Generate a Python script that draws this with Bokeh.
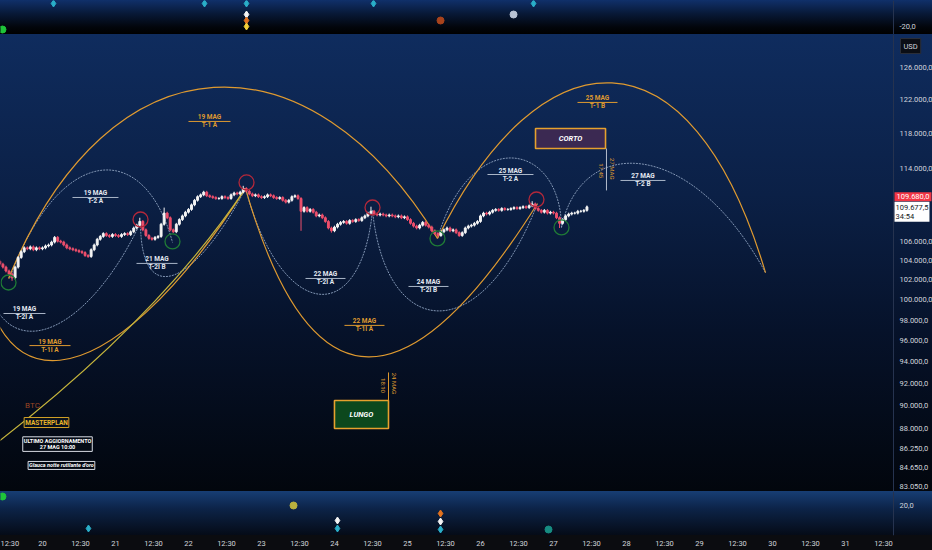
from math import pi
from bokeh.plotting import figure
from bokeh.layouts import column
from bokeh.models import Range1d, FixedTicker, Label, Span, ColumnDataSource
from bokeh.core.properties import value
from bokeh.embed import file_html
from bokeh.resources import INLINE

FONT = "Roboto"

# BTCUSD 1h closes, 19 May 10:00 -> 27 May 11:00
closes = [
    # 19
    103600, 103300, 102900, 102600, 102200, 103300, 104300, 104900, 105300, 105200, 105400, 105100, 105300, 105200,
    # 20
    105300, 105500, 105600, 105900, 106400, 106000, 105900, 105600, 105300, 105200, 105100, 105000,
    104900, 104800, 104500, 104400, 105100, 105600, 106200, 106500, 106800, 106600, 106500, 106700,
    # 21
    106600, 106500, 106700, 106800, 106700, 107000, 107400, 107700, 108100, 107200, 106600, 106300,
    106200, 106400, 106500, 107800, 109000, 108500, 107200, 107000, 107800, 108300, 108700, 109100,
    # 22
    109400, 109900, 110400, 110800, 111000, 111300, 110900, 110800, 110700, 110600, 110600, 110800,
    110700, 110600, 111000, 111200, 111100, 111300, 111700, 111400, 111100, 110900, 111000, 110800,
    # 23
    110700, 110800, 111000, 110900, 110700, 110600, 110700, 110400, 110200, 110400, 110800, 110900,
    110600, 109200, 109600, 109200, 109400, 109100, 108700, 108800, 108500, 108100, 107400, 107100,
    # 24
    107500, 107800, 108000, 108100, 107900, 108200, 108100, 108300, 108200, 108500, 108700, 109000,
    109200, 108900, 108800, 108900, 108800, 108700, 108800, 108700, 108600, 108700, 108500, 108600,
    # 25
    108300, 107900, 107600, 107400, 107700, 108000, 107700, 107500, 107100, 106800, 106600, 107000,
    107200, 107400, 107100, 107200, 106900, 106600, 106900, 107400, 107600, 107700, 107900, 108100,
    # 26
    108700, 109000, 108900, 109100, 109300, 109400, 109300, 109500, 109400, 109400, 109500, 109600,
    109500, 109600, 109700, 109600, 109800, 110000, 109500, 109300, 109100, 109300, 109000, 109100,
    # 27
    109000, 108500, 107900, 108300, 108700, 108900, 109000, 109000, 109200, 109200, 109300, 109680,
]
first_open = 103900
wick = 150
hi_spikes = {46: 108500, 54: 109600, 80: 112000, 122: 109700, 175: 110300}
lo_spikes = {4: 101900, 99: 107100, 109: 106900, 144: 106400, 184: 107400}

# cycle arcs: (x0, y0, cx0, cy0, cx1, cy1, x1, y1) in day-of-May / USD
arcs_orange = [
    (19.535, 102140, 20.932, 130730, 23.672, 130730, 25.411, 106290),
    (19.083, 110380, 19.083, 87800, 20.932, 90460, 22.781, 111710),
    (22.781, 111710, 23.672, 89120, 25.041, 90010, 26.781, 110050),
    (25.411, 106290, 26.822, 130730, 28.877, 132030, 29.904, 102740),
]
arcs_grey = [
    (19.548, 102140, 20.247, 117170, 21.411, 117170, 21.781, 105870),
    (19.151, 107140, 19.151, 92280, 20.521, 95070, 21.343, 107990),
    (21.343, 107990, 21.343, 98940, 22.096, 101430, 22.781, 111710),
    (22.781, 111710, 23.261, 97960, 24.357, 96980, 24.521, 109290),
    (24.521, 109290, 24.699, 96020, 26.000, 95070, 26.781, 110050),
    (25.411, 106290, 25.863, 118930, 27.096, 117170, 27.110, 107460),
    (27.110, 107460, 27.370, 117760, 28.877, 117760, 29.904, 102740),
]
arc_yellow = (18.877, 84380, 21.480, 96980, 22.781, 111710)

# turning points
tops_x = [21.343, 22.795, 24.521, 26.767]
tops_y = [108310, 112380, 109610, 110490]
lows_x = [19.535, 21.781, 25.411, 27.110]
lows_y = [101730, 105970, 106290, 107460]

# arc tags: line1, line2, x start, x end, price, colour
tags = [
    ("19 MAG", "T-2 A", 20.411, 21.041, 110710, "w"),
    ("19 MAG", "T-1 A", 22.000, 22.576, 119410, "o"),
    ("21 MAG", "T-2I B", 21.288, 21.850, 103680, "w"),
    ("19 MAG", "T-2I A", 19.466, 20.041, 98640, "w"),
    ("19 MAG", "T-1I A", 19.822, 20.384, 95540, "o"),
    ("22 MAG", "T-2I A", 23.603, 24.151, 102140, "w"),
    ("24 MAG", "T-2I B", 25.014, 25.562, 101330, "w"),
    ("22 MAG", "T-1I A", 24.137, 24.685, 97480, "o"),
    ("25 MAG", "T-2 A", 26.096, 26.726, 113270, "w"),
    ("25 MAG", "T-1 B", 27.329, 27.877, 121690, "o"),
    ("27 MAG", "T-2 B", 27.918, 28.534, 112600, "w"),
]

# signal boxes
boxes = [("CORTO", 26.754, 27.713, 118580, 116240, "#3b2952"),
         ("LUNGO", 24.000, 24.740, 90460, 87980, "#0c481d")]

# indicator strips
top_x = [20.151, 22.220, 22.795, 24.535, 26.727, 22.795, 22.795, 22.795, 25.453, 26.453, 19.452]
top_v = [3, 3, 3, 3, 3, -8, -14, -20, -14, -8, -23]
top_c = ["#2aaec8"] * 5 + ["#f4f4f4", "#e2721e", "#f2cf3a", "#a8431c", "#b8c2d4", "#1fc43a"]
top_m = ["diamond"] * 8 + ["circle"] * 3
bot_x = [19.452, 23.439, 24.041, 24.041, 20.630, 25.453, 25.453, 25.453, 26.932]
bot_v = [29, 20, 5, -3, -3, 12, 4, -4, -4]
bot_c = ["#1fc43a", "#b9b13e", "#f4f4f4", "#2aaec8", "#2aaec8", "#e2721e", "#f4f4f4", "#2aaec8", "#178c82"]
bot_m = ["circle", "circle", "diamond", "diamond", "diamond", "diamond", "diamond", "diamond", "circle"]

y_ticks = [126000, 122000, 118000, 114000, 106000, 104000, 102000, 100000, 98000, 96000,
           94000, 92000, 90000, 88000, 86250, 84650, 83050]
y_tick_labels = ["126.000,0", "122.000,0", "118.000,0", "114.000,0", "106.000,0", "104.000,0",
                 "102.000,0", "100.000,0", "98.000,0", "96.000,0", "94.000,0", "92.000,0",
                 "90.000,0", "88.000,0", "86.250,0", "84.650,0", "83.050,0"]
x_ticks = [19.5208, 20, 20.5208, 21, 21.5208, 22, 22.5208, 23, 23.5208, 24, 24.5208, 25, 25.5208,
           26, 26.5208, 27, 27.5208, 28, 28.5208, 29, 29.5208, 30, 30.5208, 31, 31.5208]
x_tick_labels = ["12:30", "20", "12:30", "21", "12:30", "22", "12:30", "23", "12:30", "24", "12:30",
                 "25", "12:30", "26", "12:30", "27", "12:30", "28", "12:30", "29", "12:30", "30",
                 "12:30", "31", "12:30"]

ORANGE = "#df9a30"
GREY = "#8296b4"
TXT = "#d1d4dc"
X0, X1 = 19.425, 31.658     # visible time span; X1 is where the price scale begins
XS = X0 + 932 / 73          # right edge including the price scale
x_range = Range1d(X0, XS)


def panel(h, y_range, bg, **kw):
    f = figure(frame_width=932, frame_height=h, x_range=x_range, y_range=y_range,
               output_backend="svg", toolbar_location=None, y_axis_location="right",
               min_border_left=0, min_border_right=0, min_border_top=0,
               background_fill_alpha=0, border_fill_alpha=0, outline_line_color=None,
               styles={"background": bg}, **kw)
    f.grid.visible = False
    ax = f.yaxis[0]
    ax.fixed_location = X1
    ax.axis_line_color = None
    ax.major_tick_line_color = None
    ax.minor_tick_line_color = None
    ax.major_tick_out = ax.major_tick_in = ax.minor_tick_out = ax.minor_tick_in = 0
    ax.major_label_text_color = TXT
    ax.major_label_text_font = FONT
    ax.major_label_text_font_size = "7.5px"
    ax.major_label_standoff = 6
    f.add_layout(Span(location=X1, dimension="height", line_color="#26334f", line_width=1))
    return f


# top strip
top = panel(34, Range1d(-28, 6),
            "linear-gradient(to bottom, #10306a 0%, #081937 40%, #02050b 80%, #000 100%)",
            x_axis_location=None, min_border_bottom=0)
top.yaxis.ticker = FixedTicker(ticks=[-20])
top.yaxis.major_label_overrides = {-20: "-20,0"}
top.scatter(x="x", y="y", marker="m", color="c", size=7,
            source=ColumnDataSource(dict(x=top_x, y=top_v, c=top_c, m=top_m)))

# main price pane
p = panel(457, Range1d(82630, 130200),
          "linear-gradient(to bottom, #0f2c5e 0%, #0b2046 35%, #06122a 65%, #02060d 100%)",
          x_axis_location=None, y_axis_type="log", min_border_bottom=0)
p.yaxis.ticker = FixedTicker(ticks=y_ticks)
p.yaxis.major_label_overrides = dict(zip(y_ticks, y_tick_labels))

t = [19 + (10 + h) / 24 for h in range(len(closes))]
opens = [first_open] + closes[:-1]
body_top = [max(o, c) for o, c in zip(opens, closes)]
body_bot = [min(o, c) for o, c in zip(opens, closes)]
highs = [hi_spikes.get(i, b + wick) for i, b in enumerate(body_top)]
lows = [lo_spikes.get(i, b - wick) for i, b in enumerate(body_bot)]
ccol = ["#f4f4f4" if c >= o else "#ee4f6c" for o, c in zip(opens, closes)]
cs = ColumnDataSource(dict(t=t, top=body_top, bot=body_bot, hi=highs, lo=lows, c=ccol))

# arcs
for arcs, col, w, dash in [(arcs_grey, GREY, 1, "2 1"), (arcs_orange, ORANGE, 1.2, "solid")]:
    p.bezier(x0=[a[0] for a in arcs], y0=[a[1] for a in arcs],
             cx0=[a[2] for a in arcs], cy0=[a[3] for a in arcs],
             cx1=[a[4] for a in arcs], cy1=[a[5] for a in arcs],
             x1=[a[6] for a in arcs], y1=[a[7] for a in arcs],
             line_color=col, line_width=w, line_dash=dash)
p.quadratic(x0=[arc_yellow[0]], y0=[arc_yellow[1]], cx=[arc_yellow[2]], cy=[arc_yellow[3]],
            x1=[arc_yellow[4]], y1=[arc_yellow[5]], line_color="#c4b43c", line_width=1.2)

p.segment(x0="t", y0="lo", x1="t", y1="hi", color="c", line_width=1, source=cs)
p.vbar(x="t", width=0.026, top="top", bottom="bot", fill_color="c", line_color="c", source=cs)

p.scatter(tops_x, tops_y, marker="circle", size=15, fill_alpha=0, line_color="#b3283a", line_width=1.3)
p.scatter(lows_x, lows_y, marker="circle", size=15, fill_alpha=0, line_color="#1f7a36", line_width=1.3)

# arc tags
tag_col = [ORANGE if tg[5] == "o" else "#e4e9f2" for tg in tags]
rule_col = [ORANGE if tg[5] == "o" else "#aab6c8" for tg in tags]
ts = ColumnDataSource(dict(
    xa=[tg[2] for tg in tags], xb=[tg[3] for tg in tags], y=[tg[4] for tg in tags],
    xm=[(tg[2] + tg[3]) / 2 for tg in tags], l1=[tg[0] for tg in tags], l2=[tg[1] for tg in tags],
    c=tag_col, rc=rule_col))
p.segment(x0="xa", y0="y", x1="xb", y1="y", color="rc", line_width=1, source=ts)
for col, base in [("l1", "bottom"), ("l2", "top")]:
    p.text(x="xm", y="y", text=col, text_color="c", text_align="center", text_baseline=base,
           text_font=value(FONT), text_font_style="bold", text_font_size="6.5px", source=ts)

# CORTO / LUNGO boxes
p.quad(left=[b[1] for b in boxes], right=[b[2] for b in boxes], top=[b[3] for b in boxes],
       bottom=[b[4] for b in boxes], fill_color=[b[5] for b in boxes], line_color="#e6a12e", line_width=1.6)
p.text(x=[(b[1] + b[2]) / 2 for b in boxes], y=[(b[3] * b[4]) ** 0.5 for b in boxes],
       text=[b[0] for b in boxes], text_color="#ffffff", text_align="center", text_baseline="middle",
       text_font=value(FONT), text_font_style="bold italic", text_font_size="7.5px")
p.segment(x0=[27.726], y0=[116240], x1=[27.726], y1=[111490], color="#b4bccb", line_width=1)
p.segment(x0=[24.740], y0=[93020], x1=[24.740], y1=[90460], color=ORANGE, line_width=1)
p.text(x=[27.658, 27.808, 24.672, 24.822], y=[113700, 113920, 91820, 92010],
       text=["17:45", "27 MAG", "18:10", "24 MAG"], angle=-pi / 2, text_color=ORANGE,
       text_align="center", text_baseline="middle", text_font=value(FONT), text_font_size="6px")

# notes bottom-left
p.add_layout(Label(x=19.863, y=90010, text="BTC", text_color="#9a4524", text_align="center",
                   text_baseline="middle", text_font=FONT, text_font_size="8px"))
p.add_layout(Label(x=20.055, y=88500, text="MASTERPLAN", text_color="#e8b52a", text_align="center",
                   text_baseline="middle", text_font=FONT, text_font_style="bold", text_font_size="6.5px",
                   border_line_color="#d3a226", border_line_width=1, background_fill_color="#07101f",
                   padding=1))
p.add_layout(Label(x=20.206, y=86620, text="ULTIMO AGGIORNAMENTO\n27 MAG 10:00", text_color="#ffffff",
                   text_align="center", text_baseline="middle", text_font=FONT, text_font_style="bold",
                   text_font_size="5.5px", text_line_height=1.1, border_line_color="#d8dce4",
                   border_line_width=1, background_fill_color="#050b16", padding=1))
p.add_layout(Label(x=20.260, y=84800, text="Glauca notte rutilante d'oro", text_color="#ffffff",
                   text_align="center", text_baseline="middle", text_font=FONT,
                   text_font_style="bold italic", text_font_size="5.5px", border_line_color="#d8dce4",
                   border_line_width=1, background_fill_color="#040912", padding=1))

# price tags on the scale
p.add_layout(Label(x=X1, y=closes[-1], x_offset=1, y_offset=10, text="109.680,0", text_color="#ffffff",
                   text_align="left", text_baseline="middle", text_font=FONT, text_font_size="7.5px",
                   background_fill_color="#f23645", padding=2))
p.add_layout(Label(x=X1, y=closes[-1], x_offset=1, y_offset=5, text="109.677,5\n34:54",
                   text_color="#131722", text_align="left", text_baseline="top", text_font=FONT,
                   text_font_size="7.5px", text_line_height=1.0, background_fill_color="#ffffff",
                   padding=1))
p.add_layout(Label(x=X1, y=130200, x_offset=7, y_offset=-4, text="USD", text_color="#d1d4dc",
                   text_align="left", text_baseline="top", text_font=FONT, text_font_size="7.5px",
                   background_fill_color="#0b0e15", border_line_color="#2a2e39", padding=3))

# bottom strip + time axis
bot = panel(44, Range1d(-10, 34),
            "linear-gradient(to bottom, #173e74 0px, #0c2347 18px, #050b17 44px, #0b0c10 44px, #0b0c10 100%)",
            min_border_bottom=15)
bot.yaxis.ticker = FixedTicker(ticks=[20])
bot.yaxis.major_label_overrides = {20: "20,0"}
bot.xaxis.ticker = FixedTicker(ticks=x_ticks)
bot.xaxis.major_label_overrides = dict(zip(x_ticks, x_tick_labels))
bot.xaxis.axis_line_color = None
bot.xaxis.major_tick_line_color = None
bot.xaxis.minor_tick_line_color = None
bot.xaxis.major_tick_out = bot.xaxis.major_tick_in = bot.xaxis.minor_tick_out = bot.xaxis.minor_tick_in = 0
bot.xaxis.major_label_text_color = TXT
bot.xaxis.major_label_text_font = FONT
bot.xaxis.major_label_text_font_size = "7.5px"
bot.xaxis.major_label_standoff = 3
bot.scatter(x="x", y="y", marker="m", color="c", size=7,
            source=ColumnDataSource(dict(x=bot_x, y=bot_v, c=bot_c, m=bot_m)))

layout = column(top, p, bot, spacing=0)
open("out.html", "w").write(file_html(layout, INLINE))
